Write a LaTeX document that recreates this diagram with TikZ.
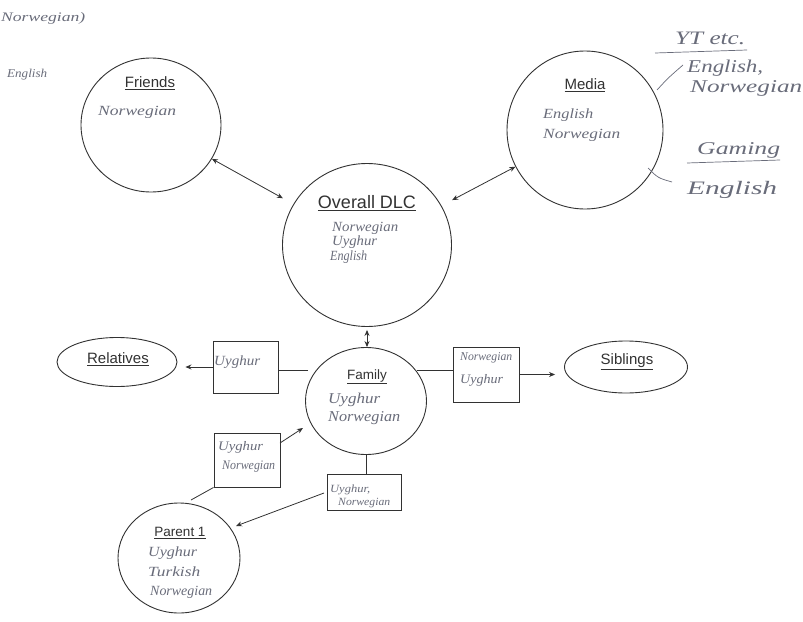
\documentclass[tikz,border=0pt]{standalone}
\usepackage{fontspec}
\usepackage{graphicx}
\usetikzlibrary{shapes.geometric,arrows.meta,calc}
\newfontfamily\labfont{Liberation Sans}
\newfontfamily\handfont{Liberation Serif}
\definecolor{ink}{RGB}{50,50,50}
\definecolor{pencil}{RGB}{105,108,122}
% handwritten word stretched to a given width, natural height kept
\newcommand\hw[2]{\resizebox{#1}{\height}{#2}}

\begin{document}
\begin{tikzpicture}[x=1pt,y=-1pt,
  bubble/.style={draw=ink, line width=0.9pt, ellipse, inner sep=0pt},
  tag/.style={draw=ink, line width=0.9pt, rectangle, inner sep=0pt},
  title/.style={font=\labfont\fontsize{#1}{#1}\selectfont, text=ink, inner sep=0pt},
  hand/.style={font=\handfont\itshape\fontsize{#1}{#1}\selectfont, text=pencil, inner sep=0pt, anchor=west},
  link/.style={draw=ink, line width=0.8pt},
  onehead/.style={-{Stealth[length=6pt,width=5pt]}},
  twohead/.style={{Stealth[length=6pt,width=5pt]}-{Stealth[length=6pt,width=5pt]}},
  pencilline/.style={draw=pencil, line width=0.7pt}
]
\useasboundingbox[fill=white] (0,0) rectangle (803,621);

% ---- bubbles ----
\node[bubble, minimum width=140pt, minimum height=134pt] (friends) at (151,125) {};
\node[bubble, minimum width=156pt, minimum height=158pt] (media) at (585,130) {};
\node[bubble, minimum width=169pt, minimum height=163pt] (dlc) at (367,245) {};
\node[bubble, minimum width=121pt, minimum height=107pt] (family) at (366,401) {};
\node[bubble, minimum width=122pt, minimum height=110pt] (parent) at (179,558) {};
\node[bubble, minimum width=120pt, minimum height=49pt] (relatives) at (117,362) {};
\node[bubble, minimum width=123pt, minimum height=52pt] (siblings) at (626,367) {};

% ---- language boxes ----
\node[tag, minimum width=65pt, minimum height=52pt] (relbox) at (245.5,367) {};
\node[tag, minimum width=66pt, minimum height=55pt] (sibbox) at (486,374.5) {};
\node[tag, minimum width=66pt, minimum height=54pt] (pnbox) at (247,460) {};
\node[tag, minimum width=74pt, minimum height=36pt] (fpbox) at (364,492) {};

% ---- titles ----
\node[title=15] (tFriends) at (150,83) {\underline{Friends}};
\node[title=15] (tMedia) at (585,85) {\underline{Media}};
\node[title=18] (tDlc) at (367,203) {\underline{Overall DLC}};
\node[title=13.5] (tFamily) at (367,377) {\underline{Family}};
\node[title=15] (tRel) at (118,359) {\underline{Relatives}};
\node[title=15] (tSib) at (627,362) {\underline{Siblings}};
\node[title=13.5] (tParent) at (180,533) {\underline{Parent 1}};

% ---- handwritten notes ----
\node[hand=13] (hTopA) at (1,18) {\hw{84pt}{Norwegian)}};
\node[hand=12] (hTopB) at (7,75) {\hw{40pt}{English}};

\node[hand=14] (hFr) at (98,112) {\hw{78pt}{Norwegian}};

\node[hand=14] (hMeA) at (543,115) {\hw{50pt}{English}};
\node[hand=14] (hMeB) at (543,135) {\hw{77pt}{Norwegian}};

\node[hand=19] (hYt) at (675,38) {\hw{70pt}{YT etc.}};
\node[hand=18] (hYtA) at (687,68) {\hw{76pt}{English,}};
\node[hand=18] (hYtB) at (690,88) {\hw{112pt}{Norwegian}};
\node[hand=18] (hGa) at (697,150) {\hw{83pt}{Gaming}};
\node[hand=19] (hGaA) at (687,190) {\hw{90pt}{English}};

\node[hand=14] (hDlA) at (332,228) {\hw{66pt}{Norwegian}};
\node[hand=14] (hDlB) at (332,242) {\hw{45pt}{Uyghur}};
\node[hand=14] (hDlC) at (330,257) {\hw{37pt}{English}};

\node[hand=15] (hFaA) at (328,400) {\hw{52pt}{Uyghur}};
\node[hand=15] (hFaB) at (328,418) {\hw{72pt}{Norwegian}};

\node[hand=14] (hPaA) at (148,553) {\hw{49pt}{Uyghur}};
\node[hand=14] (hPaB) at (148,572) {\hw{52pt}{Turkish}};
\node[hand=14] (hPaC) at (150,592) {\hw{62pt}{Norwegian}};

\node[hand=14] (hRel) at (214,362) {\hw{46pt}{Uyghur}};
\node[hand=12] (hSiA) at (460,358) {\hw{52pt}{Norwegian}};
\node[hand=13] (hSiB) at (460,380) {\hw{43pt}{Uyghur}};
\node[hand=13] (hPnA) at (218,447) {\hw{45pt}{Uyghur}};
\node[hand=13] (hPnB) at (222,467) {\hw{53pt}{Norwegian}};
\node[hand=11] (hFpA) at (330,490) {\hw{40pt}{Uyghur,}};
\node[hand=11] (hFpB) at (338,503) {\hw{52pt}{Norwegian}};

% ---- free line ends ----
\coordinate (famL) at (308,370);
\coordinate (famR) at (417,370);
\coordinate (pnFoot) at (191,500);
\coordinate (pnOut) at (280,443);
\coordinate (famIn) at (303,428);
\coordinate (fpOut) at (324,493);
\coordinate (parIn) at (236,526);
\coordinate (ytA) at (657,90);
\coordinate (ytB) at (683,65);
\coordinate (gaA) at (648,168);
\coordinate (gaB) at (672,182);
\coordinate (ytUl) at (655,53);
\coordinate (ytUr) at (747,50);
\coordinate (gaUl) at (687,163);
\coordinate (gaUr) at (780,160);

% ---- connectors ----
\draw[link, twohead, shorten >=12pt] (friends) -- (dlc);
\draw[link, twohead, shorten <=12pt] (dlc) -- (media);
\draw[link, twohead, shorten <=3pt] (dlc.south) -- (dlc.south |- family.north);

\draw[link] (famL) -- (famL -| relbox.east);
\draw[link, onehead, shorten >=8pt] (relbox.west) -- (relbox.west -| relatives.east);

\draw[link] (famR) -- (famR -| sibbox.west);
\draw[link, onehead, shorten >=9pt] (sibbox.east) -- (sibbox.east -| siblings.west);

\draw[link] (pnFoot) -- (pnbox.south west);
\draw[link, onehead] (pnOut) -- (famIn);

\draw[link] (family.south) -- (family.south |- fpbox.north);
\draw[link, onehead] (fpOut) -- (parIn);

% ---- pencil strokes beside the media bubble ----
\draw[pencilline] (ytA) .. controls (668,78) .. (ytB);
\draw[pencilline] (gaA) .. controls (658,178) .. (gaB);
\draw[pencilline] (ytUl) -- (ytUr);
\draw[pencilline] (gaUl) -- (gaUr);
\end{tikzpicture}
\end{document}
